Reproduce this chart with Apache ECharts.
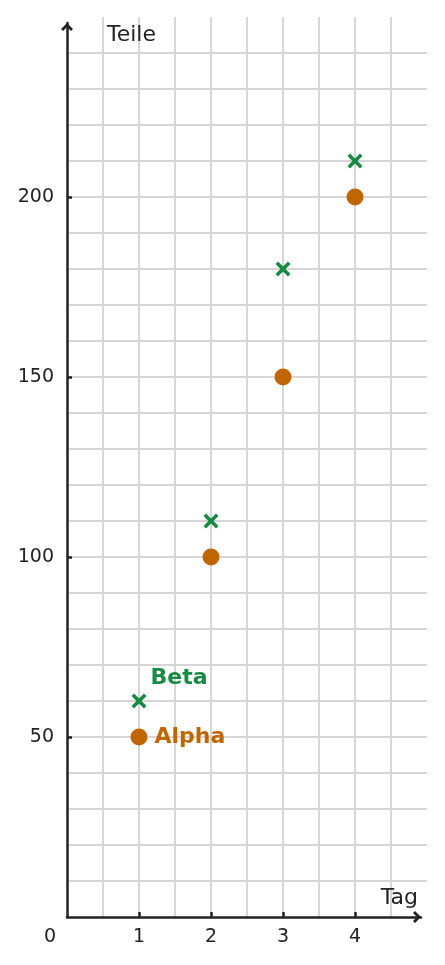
<!DOCTYPE html>
<html>
<head>
<meta charset="utf-8">
<script src="https://cdn.jsdelivr.net/npm/echarts@6/dist/echarts.min.js"></script>
<style>
html,body{margin:0;padding:0;background:#fff;}
#chart{width:445px;height:965px;}
</style>
</head>
<body>
<div id="chart"></div>
<script>
var days = [1, 2, 3, 4];
var alphaValues = [50, 100, 150, 200];
var betaValues = [60, 110, 180, 210];
var xTickValues = [1, 2, 3, 4];
var xLabelValues = [0, 1, 2, 3, 4];
var yTickValues = [50, 100, 150, 200];
var seriesNames = ['Alpha', 'Beta'];
var axisNames = {x: 'Tag', y: 'Teile'};

var txt = '#222222';
var gridColor = '#d6d6d6';
var orange = '#bf6600';
var green = '#188a44';
var font = 'DejaVu Sans';
var chevron = 'path://M6,0 L12,6 L10,8 L6,4 L2,8 L0,6 Z';
var cross = 'path://M1.7,0 L5,3.3 L8.3,0 L10,1.7 L6.7,5 L10,8.3 L8.3,10 L5,6.7 L1.7,10 L0,8.3 L3.3,5 L0,1.7 Z';

function pairs(xs, ys) { return xs.map(function (x, i) { return [x, ys[i]]; }); }

var alphaData = pairs(days, alphaValues).map(function (p, i) {
  return i === 0 ? {value: p, label: {show: true, formatter: seriesNames[0], position: 'right', distance: 7,
    color: orange, fontWeight: 'bold', fontSize: 22, fontFamily: font}} : {value: p};
});
var betaData = pairs(days, betaValues).map(function (p, i) {
  return i === 0 ? {value: p, label: {show: true, formatter: seriesNames[1], position: 'right', distance: 4,
    offset: [0, -23], color: green, fontWeight: 'bold', fontSize: 22, fontFamily: font}} : {value: p};
});

var gridLineStyle = {show: true, showMinLine: false, showMaxLine: false, lineStyle: {color: gridColor, width: 2}};
var axisLineStyle = {show: true, onZero: false, lineStyle: {color: txt, width: 2.5},
  symbol: ['none', chevron], symbolSize: [12, 8], symbolOffset: [0, -4]};

var chart = echarts.init(document.getElementById('chart'), null, {renderer: 'canvas'});
chart.setOption({
  backgroundColor: '#ffffff',
  animation: false,
  grid: [
    {left: 67, right: 18, top: 17, bottom: 48, containLabel: false},
    {left: 67, right: 24, top: 23, bottom: 48, containLabel: false}
  ],
  xAxis: [{
    gridIndex: 0, type: 'value', min: 0, max: 5, interval: 0.5, position: 'bottom', z: 0,
    axisLine: {show: false}, axisTick: {show: false}, axisLabel: {show: false},
    splitLine: gridLineStyle
  }, {
    gridIndex: 1, type: 'value', min: 0, max: 354 / 72, position: 'bottom', z: 5,
    name: axisNames.x, nameLocation: 'end', nameGap: -3,
    nameTextStyle: {color: txt, fontSize: 22, fontFamily: font, align: 'right', verticalAlign: 'bottom', padding: [0, 0, 8, 0]},
    axisLine: axisLineStyle,
    axisTick: {show: true, inside: true, length: 5, customValues: xTickValues, lineStyle: {color: txt, width: 2.5}},
    axisLabel: {show: true, customValues: xLabelValues, margin: 11, color: txt, fontSize: 19, fontFamily: font,
      formatter: function (v) { return v === 0 ? '{z|0}' : String(v); },
      rich: {z: {padding: [0, 34, 0, 0], color: txt, fontSize: 19, fontFamily: font}}},
    splitLine: {show: false}
  }],
  yAxis: [{
    gridIndex: 0, type: 'value', min: 0, max: 250, interval: 10, position: 'left', z: 0,
    axisLine: {show: false}, axisTick: {show: false}, axisLabel: {show: false},
    splitLine: gridLineStyle
  }, {
    gridIndex: 1, type: 'value', min: 0, max: 894 / 3.6, position: 'left', z: 5,
    name: axisNames.y, nameLocation: 'end', nameGap: -12,
    nameTextStyle: {color: txt, fontSize: 22, fontFamily: font, align: 'left', verticalAlign: 'middle', padding: [0, 0, 0, 40]},
    axisLine: axisLineStyle,
    axisTick: {show: true, inside: true, length: 5, customValues: yTickValues, lineStyle: {color: txt, width: 2.5}},
    axisLabel: {show: true, customValues: yTickValues, margin: 13, color: txt, fontSize: 19, fontFamily: font},
    splitLine: {show: false}
  }],
  series: [
    {name: seriesNames[0], type: 'scatter', xAxisIndex: 0, yAxisIndex: 0, data: alphaData, symbol: 'circle', symbolSize: 17,
      itemStyle: {color: orange, opacity: 1}, z: 3},
    {name: seriesNames[1], type: 'scatter', xAxisIndex: 0, yAxisIndex: 0, data: betaData, symbol: cross, symbolSize: 15,
      itemStyle: {color: green, opacity: 1}, z: 3}
  ]
});
</script>
</body>
</html>
